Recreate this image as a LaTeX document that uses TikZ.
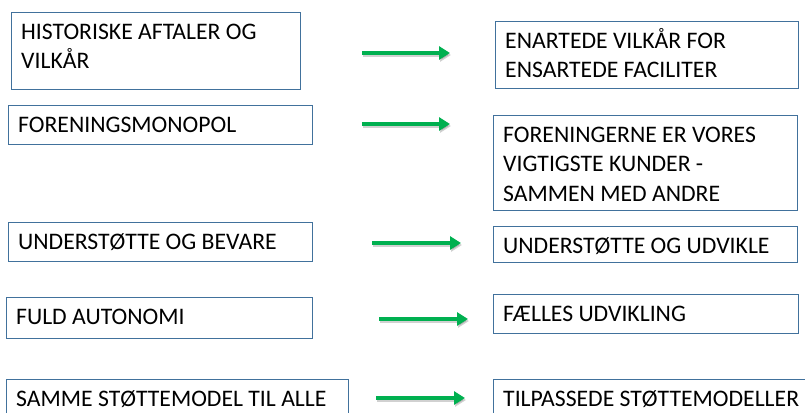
\documentclass[tikz,border=0pt]{standalone}
\usepackage{fontspec}
\setmainfont{Carlito}
\usetikzlibrary{arrows.meta}
\definecolor{boxline}{HTML}{41719C}
\definecolor{arrowgreen}{HTML}{00B050}
\tikzset{
  box/.style={draw=boxline, line width=1.1pt, inner sep=0pt, anchor=north west},
  txt/.style={anchor=north west, inner sep=0pt, align=left, font=\fontsize{23.7}{29.5}\selectfont},
  garrow/.style={draw=arrowgreen, line width=4pt, -{Triangle[length=11pt,width=13pt]}},
  gshadow/.style={draw=black, opacity=0.18, line width=4.5pt, -{Triangle[length=11pt,width=13pt]}, transform canvas={xshift=1pt,yshift=-2pt}}
}
\newcommand{\bx}[6]{% name, x1,y1,x2,y2, text
  \path (#2,#3) coordinate (#1nw) (#4,#5) coordinate (#1se);
  \node[box, minimum width=#4pt-#2pt, minimum height=#5pt-#3pt] (#1) at (#1nw) {};
  \node[txt] (#1t) at ([xshift=10pt,yshift=-6.3pt]#1.north west) {\strut #6};
}
\begin{document}
\begin{tikzpicture}[x=1pt,y=-1pt]
\useasboundingbox (0,0) rectangle (805,412);
\bx{la}{11}{12}{300}{89}{HISTORISKE AFTALER OG\\VILKÅR}
\bx{lb}{8}{105}{312}{144}{FORENINGSMONOPOL}
\bx{lc}{8}{222}{312}{261}{UNDERSTØTTE OG BEVARE}
\bx{ld}{6}{297}{312}{338}{FULD AUTONOMI}
\bx{le}{6}{379}{348}{420}{SAMME STØTTEMODEL TIL ALLE}
\bx{ra}{495}{21}{798}{88}{ENARTEDE VILKÅR FOR\\ENSARTEDE FACILITER}
\bx{rb}{493}{115}{797}{210}{FORENINGERNE ER VORES\\VIGTIGSTE KUNDER -\\SAMMEN MED ANDRE}
\bx{rc}{493}{226}{797}{262}{UNDERSTØTTE OG UDVIKLE}
\bx{rd}{493}{294}{798}{333}{FÆLLES UDVIKLING}
\bx{re}{493}{379}{812}{420}{TILPASSEDE STØTTEMODELLER}
\coordinate (a1s) at (362,53);  \coordinate (a1e) at (450,53);
\coordinate (a2s) at (362,124); \coordinate (a2e) at (450,124);
\coordinate (a3s) at (372,243); \coordinate (a3e) at (461,243);
\coordinate (a4s) at (379,319); \coordinate (a4e) at (468,319);
\coordinate (a5s) at (376,398); \coordinate (a5e) at (465,398);
\foreach \i in {1,...,5} {\draw[gshadow] (a\i s) -- (a\i e);}
\foreach \i in {1,...,5} {\draw[garrow] (a\i s) -- (a\i e);}
\end{tikzpicture}
\end{document}
